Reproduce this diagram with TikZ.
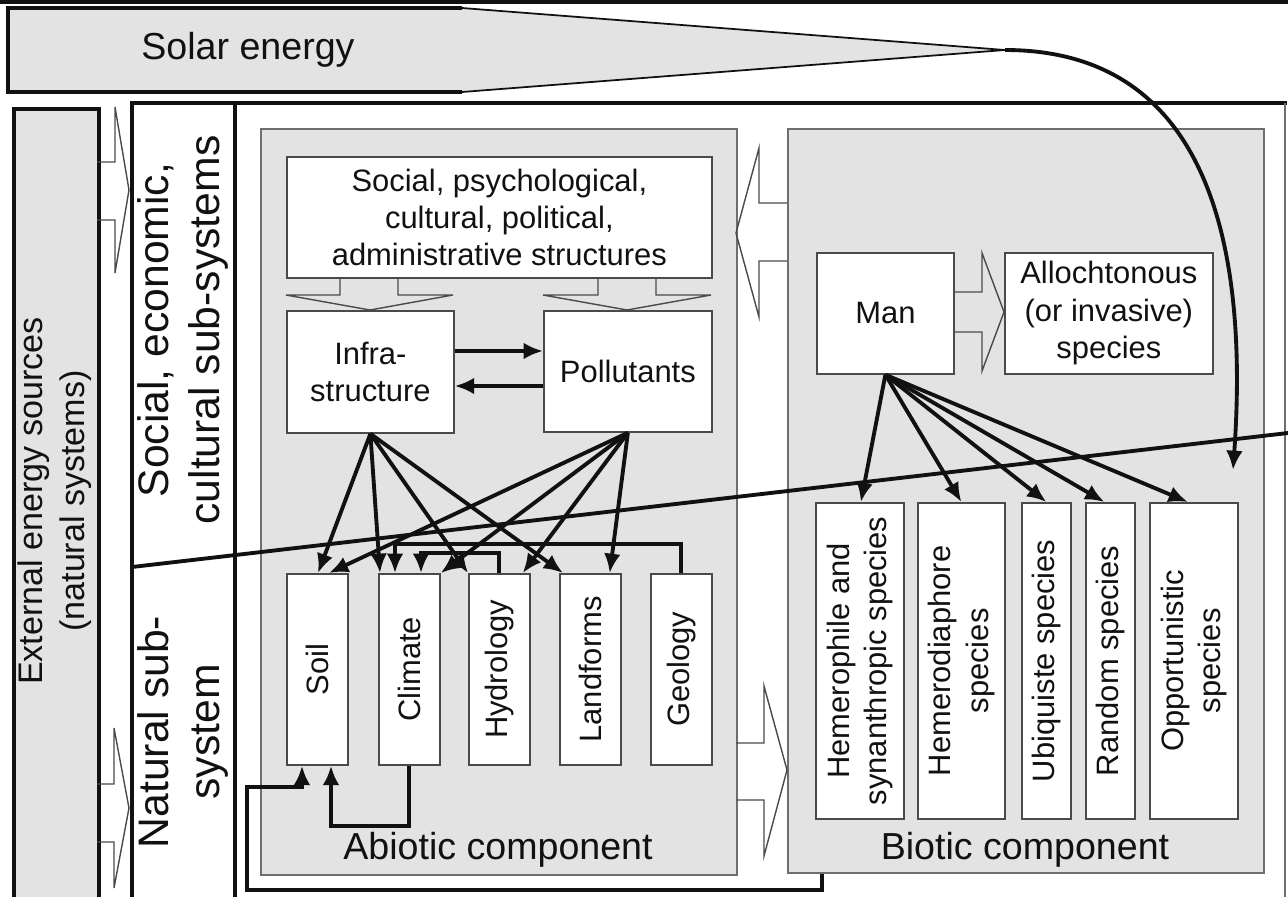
\documentclass[tikz,border=0pt]{standalone}
\usepackage{fontspec}
\setmainfont{Liberation Sans}
\usetikzlibrary{calc,arrows.meta}
\definecolor{panelfill}{HTML}{E3E3E3}
\definecolor{panelline}{HTML}{6E6E6E}
\definecolor{boxline}{HTML}{4A4A4A}
\definecolor{ink}{HTML}{111111}
\newlength\px
\setlength\px{0.02cm}
\newcommand\bigfont{\fontsize{24.3}{29}\selectfont}
\newcommand\midfont{\fontsize{21.4}{25.7}\selectfont}
\newcommand\extfont{\fontsize{19.4}{23.9}\selectfont}
\begin{document}
\begin{tikzpicture}[x=0.02cm,y=-0.02cm,
  font=\fontsize{17.6}{21.3}\selectfont, text=ink,
  panel/.style={draw=panelline, fill=panelfill, line width=1.1pt, inner sep=0pt, anchor=north west},
  bx/.style={draw=boxline, fill=white, line width=1pt, inner sep=0pt, anchor=north west, align=center},
  heavy/.style={line width=2.4pt, draw=ink},
  link/.style={line width=2.2pt, draw=ink, -{Latex[length=11pt,width=9.5pt]}},
  plain/.style={line width=2.2pt, draw=ink},
  hollow/.style={draw=boxline, line width=0.8pt, line join=miter},
  vlabel/.style={rotate=90, align=center}]
\useasboundingbox (0,0) rectangle (1288,896);
\clip (0,0) rectangle (1288,896);

% top rule
\draw[heavy] (0,2) -- (1288,2);

% solar energy wedge
\coordinate (apex) at (1005,50);
\fill[panelfill] (8,8) -- (462,8) -- (apex) -- (462,92) -- (8,92) -- cycle;
\draw[heavy] (462,8) -- (8,8) -- (8,92) -- (462,92);
\draw[line width=1pt, draw=ink] (462,8) -- (apex) -- (462,92);
\node[font=\midfont] (solar) at (248,50) {Solar energy};

% external energy bar
\node[draw=ink, line width=2.4pt, fill=panelfill, anchor=north west, inner sep=0pt,
      minimum width=85*\px, minimum height=820*\px] (ext) at (12,107) {};
\node[vlabel, font=\extfont] (extlbl) at (55,501) {External energy sources\\(natural systems)};

% system frame
\draw[heavy] (132,920) -- (132,103) -- (1287,103);
\draw[line width=1.1pt, draw=panelline] (1285,103) -- (1285,920);
\draw[heavy] (235,103) -- (235,920);
\node[vlabel, font=\bigfont] (soclbl) at (183,330) {Social, economic,\\cultural sub-systems};
\node[vlabel, font=\bigfont] (natlbl) at (183,732) {Natural sub-\\system};

% energy inflow arrows
\draw[hollow] (97,162) -- (115,162) -- (115,107) -- (129,190) -- (115,273) -- (115,220) -- (97,220);
\draw[hollow] (97,784) -- (114,784) -- (114,728) -- (129,808) -- (114,888) -- (114,842) -- (97,842);

% component panels
\node[panel, minimum width=476*\px, minimum height=746*\px] (abio) at (260,128) {};
\node[panel, minimum width=476*\px, minimum height=744*\px] (bio) at (787,128) {};
\node[font=\midfont, anchor=base] (abiolbl) at (498,859) {Abiotic component};
\node[font=\midfont, anchor=base] (biolbl) at (1025,859) {Biotic component};

% exchange arrows between panels
\draw[hollow] (787,203) -- (759,203) -- (759,148) -- (736,233) -- (759,317) -- (759,261) -- (787,261);
\draw[hollow] (736,743) -- (764,743) -- (764,686) -- (787,770) -- (764,856) -- (764,800) -- (736,800);

% social / natural divide
\coordinate (divL) at (132,567);
\coordinate (divR) at (1288,433);
\draw[plain] (divL) -- (divR);

% abiotic boxes
\node[bx, minimum width=425*\px, minimum height=121*\px] (struct) at (286,156)
  {Social, psychological,\\cultural, political,\\administrative structures};
\node[bx, minimum width=167*\px, minimum height=122*\px] (inf) at (286,310) {Infra-\\structure};
\node[bx, minimum width=168*\px, minimum height=121*\px] (pol) at (543,310) {Pollutants};
\node[bx, minimum width=61*\px, minimum height=191*\px] (soil) at (286,573) {};
\node[bx, minimum width=61*\px, minimum height=191*\px] (cli) at (378,573) {};
\node[bx, minimum width=61*\px, minimum height=191*\px] (hyd) at (468,573) {};
\node[bx, minimum width=61*\px, minimum height=191*\px] (lan) at (559,573) {};
\node[bx, minimum width=61*\px, minimum height=191*\px] (geo) at (650,573) {};
\node[vlabel] at (soil.center) {Soil};
\node[vlabel] at (cli.center) {Climate};
\node[vlabel] at (hyd.center) {Hydrology};
\node[vlabel] at (lan.center) {Landforms};
\node[vlabel] at (geo.center) {Geology};

% structures feed infrastructure and pollutants
\draw[hollow] (340,277) -- (340,295) -- (286,295) -- (370,310) -- (453,295) -- (398,295) -- (398,277);
\draw[hollow] (598,277) -- (598,295) -- (543,295) -- (627,310) -- (711,295) -- (656,295) -- (656,277);

% biotic boxes
\node[bx, minimum width=137*\px, minimum height=121*\px] (man) at (816,252) {Man};
\node[bx, minimum width=208*\px, minimum height=121*\px] (allo) at (1004,252) {Allochtonous\\(or invasive)\\species};
\node[bx, minimum width=88*\px, minimum height=316*\px] (hem) at (815,502) {};
\node[bx, minimum width=87*\px, minimum height=316*\px] (hmd) at (917,502) {};
\node[bx, minimum width=49*\px, minimum height=316*\px] (ubi) at (1021,502) {};
\node[bx, minimum width=49*\px, minimum height=316*\px] (ran) at (1085,502) {};
\node[bx, minimum width=88*\px, minimum height=316*\px] (opp) at (1149,502) {};
\node[vlabel] at (hem.center) {Hemerophile and\\synanthropic species};
\node[vlabel] at (hmd.center) {Hemerodiaphore\\species};
\node[vlabel] at (ubi.center) {Ubiquiste species};
\node[vlabel] at (ran.center) {Random species};
\node[vlabel] at (opp.center) {Opportunistic\\species};
\draw[hollow] (953,292) -- (982,292) -- (982,253) -- (1004,312) -- (982,371) -- (982,332) -- (953,332);

% infrastructure <-> pollutants
\draw[link] ($(inf.north east)+(0,41)$) -- ($(pol.north west)+(0,41)$);
\draw[link] ($(pol.north west)+(0,76)$) -- ($(inf.north east)+(0,76)$);

% influences on the abiotic factors
\draw[link] (inf.south) -- ($(soil.north west)+(32,0)$);
\draw[link] (inf.south) -- ($(cli.north west)+(2,0)$);
\draw[link] (inf.south) -- (hyd.north west);
\draw[link] (inf.south) -- ($(lan.north west)+(4,0)$);
\draw[link] (pol.south) -- ($(soil.north west)+(43,0)$);
\draw[link] (pol.south) -- (cli.north east);
\draw[link] (pol.south) -- ($(hyd.north east)+(-8,0)$);
\draw[link] (pol.south) -- ($(lan.north east)+(-12,0)$);

% feedbacks among the abiotic factors
\draw[link] (geo.north) -- ++(0,-29) -| ($(cli.north west)+(17,0)$);
\draw[link] (hyd.north) -- ++(0,-20) -| ($(cli.north west)+(43,0)$);
\draw[link] (cli.south) -- ++(0,60) -| ($(soil.south west)+(45,0)$);
\draw[link] ($(bio.south west)+(35,0)$) -- ++(0,16) -| ++(-575,-103) -- ++(55,0)
  -- ($(soil.south west)+(16,0)$);

% man acts on the species groups
\draw[link] (man.south) -- ($(hem.north)+(1,0)$);
\draw[link] (man.south) -- (hmd.north);
\draw[link] (man.south) -- (ubi.north);
\draw[link] (man.south) -- ($(ran.north)+(-6,0)$);
\draw[link] (man.south) -- ($(opp.north)+(-6,0)$);

% solar energy reaching the biota
\coordinate (sunin) at (1233,470);
\draw[link] (apex) .. controls (1200,50) and (1250,230) .. (sunin);
\end{tikzpicture}
\end{document}
